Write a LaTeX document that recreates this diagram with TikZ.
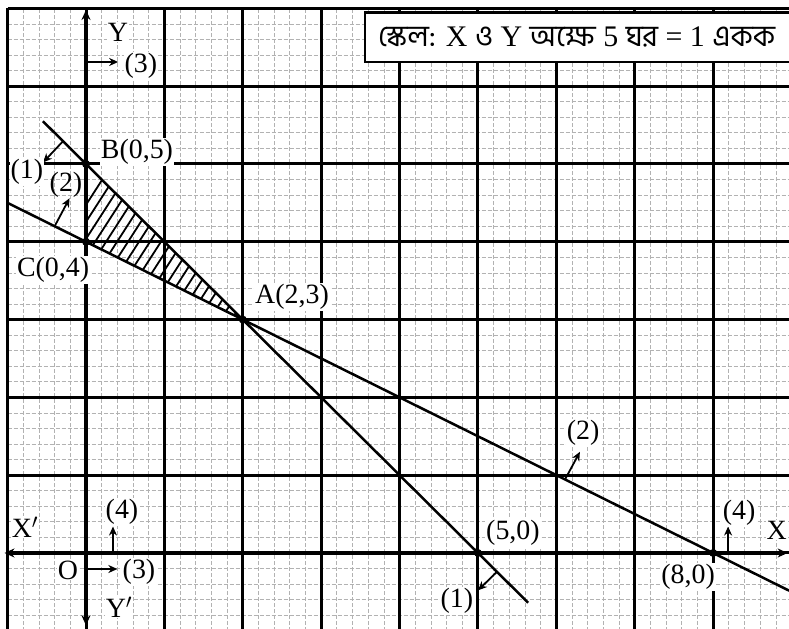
\documentclass[tikz,border=0pt]{standalone}
\usepackage{fontspec}
\setmainfont{Liberation Serif}
\newfontfamily\bn[Script=Bengali]{Hind Siliguri}
\usetikzlibrary{arrows.meta}
\tikzset{
  minorgrid/.style={gray!60, line width=0.8bp, dash pattern=on 4bp off 2bp},
  majorgrid/.style={black, line width=3bp},
  axis/.style={black, line width=3.6bp, -{Stealth[length=10bp,width=9bp]}},
  cline/.style={black, line width=2.5bp},
  harrow/.style={black, line width=1.8bp, -{Stealth[length=9bp,width=8bp]}},
  lbl/.style={fill=white, inner sep=1bp, font=\fontsize{28}{32}\selectfont},
  dot/.style={circle, fill=black, inner sep=0pt, minimum size=8bp},
}
\begin{document}
\begin{tikzpicture}[x=78.4bp, y=77.8bp]
\useasboundingbox (-1.097,-0.977) rectangle (8.967,7.108);
\fill[white] (-1.097,-0.977) rectangle (8.967,7.108);
\begin{scope}
\clip (-1.097,-0.977) rectangle (8.967,7.108);
% minor grid
\draw[minorgrid] (-1,-1) grid[step=0.2] (9.2,7);
% major grid
\draw[majorgrid] (-1,-1) grid[step=1] (9.2,7);
\end{scope}
% hatched region
\begin{scope}
\clip (0,5) -- (0,4) -- (2,3) -- cycle;
\foreach \i in {0,...,24} {
  \draw[line width=1.8bp] ({-1.2+\i*0.14},2.6) -- ++(1.6,2.5);
}
\end{scope}
% axes
\coordinate (xl) at (-1.04,0);
\coordinate (xr) at (8.95,0);
\coordinate (yt) at (0,6.98);
\coordinate (yb) at (0,-0.93);
\draw[axis] (0,0) -- (xr);
\draw[axis] (0,0) -- (xl);
\draw[axis] (0,0) -- (yt);
\draw[axis] (0,0) -- (yb);
% constraint lines
\coordinate (l1s) at (-0.55,5.55);
\coordinate (l1e) at (5.64,-0.64);
\coordinate (l2s) at (-1.0,4.5);
\coordinate (l2e) at (8.97,-0.485);
\draw[cline] (l1s) -- (l1e);
\draw[cline] (l2s) -- (l2e);
% points
\node[dot] (B) at (0,5) {};
\node[dot] (C) at (0,4) {};
\node[dot] (A) at (2,3) {};
\node[dot] (P5) at (5,0) {};
\node[dot] (P8) at (8,0) {};
% direction arrows
\coordinate (a1s) at (-0.293,5.293);
\coordinate (a1e) at (-0.548,5.02);
\draw[harrow] (a1s) -- (a1e);
\coordinate (a2s) at (-0.4,4.2);
\coordinate (a2e) at (-0.21,4.56);
\draw[harrow] (a2s) -- (a2e);
\coordinate (a3s) at (0,6.311);
\coordinate (a3e) at (0.41,6.311);
\draw[harrow] (a3s) -- (a3e);
\coordinate (a4s) at (6.11,0.945);
\coordinate (a4e) at (6.30,1.30);
\draw[harrow] (a4s) -- (a4e);
\coordinate (a5s) at (5.242,-0.242);
\coordinate (a5e) at (5.0,-0.48);
\draw[harrow] (a5s) -- (a5e);
\coordinate (a6s) at (8.19,0);
\coordinate (a6e) at (8.19,0.34);
\draw[harrow] (a6s) -- (a6e);
\coordinate (a7s) at (0.344,0);
\coordinate (a7e) at (0.344,0.34);
\draw[harrow] (a7s) -- (a7e);
\coordinate (a8s) at (0,-0.206);
\coordinate (a8e) at (0.40,-0.206);
\draw[harrow] (a8s) -- (a8e);
% labels
\node[lbl] (lY) at (0.408,6.697) {Y};
\node[lbl] (l3t) at (0.70,6.26) {(3)};
\node[lbl] (lB) at (0.65,5.154) {B(0,5)};
\node[lbl] (l1t) at (-0.753,4.897) {(1)};
\node[lbl,fill=none] (l2t) at (-0.255,4.73) {(2)};
\node[lbl] (lC) at (-0.42,3.637) {C(0,4)};
\node[lbl] (lA) at (2.628,3.29) {A(2,3)};
\node[lbl] (l2b) at (6.34,1.542) {(2)};
\node[lbl] (l50) at (5.446,0.257) {(5,0)};
\node[lbl] (l1b) at (4.73,-0.617) {(1)};
\node[lbl] (l80) at (7.68,-0.308) {(8,0)};
\node[lbl] (l4r) at (8.33,0.514) {(4)};
\node[lbl] (lX) at (8.81,0.296) {X};
\node[lbl] (lXp) at (-0.778,0.334) {X$'$};
\node[lbl] (l4l) at (0.459,0.527) {(4)};
\node[lbl] (lO) at (-0.23,-0.219) {O};
\node[lbl] (l3b) at (0.676,-0.244) {(3)};
\node[lbl] (lYp) at (0.42,-0.694) {Y$'$};
% scale box
\draw[fill=white, line width=2.6bp] (3.559,6.311) rectangle (9.3,6.95);
\node[inner sep=0pt, font=\fontsize{30}{34}\selectfont] (scale) at (6.257,6.63)
  {{\bn স্কেল:} X {\bn ও} Y {\bn অক্ষে} 5 {\bn ঘর} = 1 {\bn একক}};
\end{tikzpicture}
\end{document}
